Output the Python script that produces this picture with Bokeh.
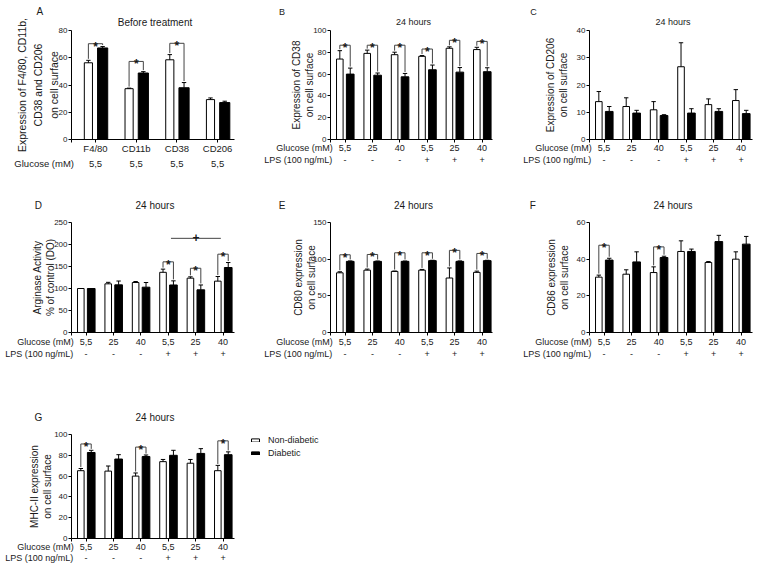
from bokeh.plotting import figure
from bokeh.layouts import column, row
from bokeh.models import Label, FixedTicker, Range1d, Legend, LegendItem, LinearAxis
from bokeh.embed import file_html
from bokeh.resources import INLINE

FONT = "Liberation Sans"
TXT = "#1a1a1a"
NB = "\u00a0"

# ---------------- data ----------------
glucose = ["5,5", "25", "40", "5,5", "25", "40"]
lps = ["-", "-", "-", "+", "+", "+"]

a_markers = ["F4/80", "CD11b", "CD38", "CD206"]
a_glucose = ["5,5", "5,5", "5,5", "5,5"]
a_nd = [56.3, 37.3, 58.5, 29.3]
a_nd_err = [1.8, 0.4, 3.8, 1.2]
a_d = [67.2, 48.8, 38.0, 27.1]
a_d_err = [1.0, 1.0, 3.8, 1.0]
a_sig = [0, 1, 2]
a_sig_h = [70.3, 57.3, 70.6]

b_nd = [73.8, 79.0, 77.8, 76.3, 83.7, 82.5]
b_nd_err = [7.7, 3.0, 2.3, 0.7, 1.3, 2.1]
b_d = [60.0, 59.0, 57.5, 64.0, 61.8, 62.2]
b_d_err = [5.5, 2.0, 3.1, 4.3, 4.2, 3.6]
b_sig = [0, 1, 2, 3, 4, 5]
b_sig_h = [86.5, 86.5, 86.5, 83.0, 91.0, 90.0]

c_nd = [13.9, 12.1, 10.9, 26.7, 12.8, 14.3]
c_nd_err = [3.7, 3.2, 3.0, 8.8, 2.1, 4.0]
c_d = [10.3, 9.7, 8.8, 9.7, 10.3, 9.5]
c_d_err = [1.8, 1.0, 0.3, 1.6, 1.0, 1.2]
c_sig = []
c_sig_h = []

d_nd = [100.0, 110.6, 113.6, 136.8, 123.5, 116.7]
d_nd_err = [0.0, 3.4, 2.3, 7.2, 3.0, 10.6]
d_d = [100.0, 108.3, 103.0, 108.0, 97.0, 147.7]
d_d_err = [0.0, 8.7, 10.6, 9.4, 11.0, 11.3]
d_sig = [3, 4, 5]
d_sig_h = [160.6, 146.0, 178.0]
d_cross_x = [3.1, 4.92]
d_cross_h = 214.0

e_nd = [81.4, 85.0, 83.3, 85.0, 74.3, 82.0]
e_nd_err = [1.4, 1.5, 0.5, 1.0, 13.7, 1.7]
e_d = [97.0, 97.0, 97.0, 98.0, 97.0, 98.0]
e_d_err = [0.6, 0.5, 0.5, 0.5, 0.6, 0.5]
e_sig = [0, 1, 2, 3, 4, 5]
e_sig_h = [106.0, 106.4, 108.7, 108.7, 112.0, 107.8]

f_nd = [30.2, 31.8, 32.7, 44.2, 38.2, 40.0]
f_nd_err = [1.1, 2.4, 3.1, 5.8, 0.5, 4.0]
f_d = [39.5, 38.5, 40.9, 44.2, 49.6, 48.2]
f_d_err = [1.0, 5.5, 0.7, 1.3, 3.4, 4.2]
f_sig = [0, 2]
f_sig_h = [47.6, 46.7]

g_nd = [65.2, 64.8, 60.0, 73.9, 72.4, 65.2]
g_nd_err = [2.1, 4.9, 3.0, 2.1, 3.6, 5.1]
g_d = [82.7, 76.4, 78.8, 80.0, 81.8, 80.6]
g_d_err = [2.1, 4.2, 1.5, 4.8, 4.6, 2.7]
g_sig = [0, 2, 5]
g_sig_h = [90.9, 87.9, 93.9]

# ---------------- layout geometry (page px) ----------------
# (page_left, fig_width, border_left, frame_width)
COLS = [(0, 250, 71, 163), (250, 250, 80, 162), (500, 256, 89, 163)]
# (page_top, fig_height, border_top, frame_height)
ROWS = [(0, 185, 30, 109), (185, 185, 37, 110), (370, 195, 61, 110)]
PX_UNIT = 27.4

# Arial / Liberation Sans advance widths (em)
CW = {"A": .667, "B": .667, "C": .722, "D": .722, "E": .667, "F": .611,
      "G": .778, "L": .556, "P": .667, "S": .667, "M": .833, " ": .278,
      "(": .333, ")": .333, "/": .278, "a": .556, "b": .556, "c": .5,
      "d": .556, "e": .556, "g": .556, "l": .222, "m": .833, "n": .556,
      "o": .556, "s": .5, "u": .556}


def text_w(s, size):
    return sum(CW.get(c, 0.556) for c in s) * size


def padded(s, size, total):
    n = max(0, round((total - text_w(s, size)) / (0.2778 * size)))
    return s + NB * n


def make_panel(ci, ri, ticklabels, nd, nd_err, d, d_err, sig, sig_h, ymax, ystep,
               ylab, ylab_size, ylab_lh, ylab_standoff, x0, px_unit, off, wnd, wd,
               xlab_size, xlab_standoff, xlab_lh, row_title_lines,
               letter, letter_cx, title, top_size, top_lh, top_standoff, two_line_top):
    left0, fwt, bl, fw = COLS[ci]
    top0, fht, bt, fh = ROWS[ri]
    x1 = x0 + fw / px_unit
    p = figure(width=fwt, height=fht, x_range=Range1d(x0, x1),
               y_range=Range1d(0, ymax), output_backend="svg",
               toolbar_location=None,
               min_border_left=bl, min_border_right=fwt - bl - fw,
               min_border_top=bt, min_border_bottom=fht - bt - fh)
    frame_left = left0 + bl
    p.outline_line_color = None
    p.xgrid.grid_line_color = None
    p.ygrid.grid_line_color = None
    p.background_fill_color = "white"
    p.border_fill_color = "white"

    n = len(ticklabels)
    xs_nd = [i - off for i in range(n)]
    xs_d = [i + off for i in range(n)]
    p.vbar(x=xs_nd, top=nd, width=wnd, fill_color="white",
           line_color="black", line_width=1)
    p.vbar(x=xs_d, top=d, width=wd, fill_color="black",
           line_color="black", line_width=1)

    cw = 2.2 / px_unit
    for xs, tops, errs in ((xs_nd, nd, nd_err), (xs_d, d, d_err)):
        ends = [t + e for t, e in zip(tops, errs)]
        p.segment(x0=xs, y0=tops, x1=xs, y1=ends, line_color="black", line_width=1)
        p.segment(x0=[x - cw for x in xs], y0=ends, x1=[x + cw for x in xs],
                  y1=ends, line_color="black", line_width=1)

    upx = ymax / fh  # data units per pixel
    gap = 1.5 * upx
    bx0, by0, bx1, by1 = [], [], [], []
    for g, h in zip(sig, sig_h):
        xl, xr = g - off, g + off
        yl = nd[g] + nd_err[g] + gap
        yr = d[g] + d_err[g] + gap
        bx0 += [xl, xl, xr]
        by0 += [h, h, h]
        bx1 += [xr, xl, xr]
        by1 += [h, yl, yr]
        p.add_layout(Label(x=g, y=h - 3.0 * upx, text="*", text_font=FONT,
                           text_font_size="12px", text_font_style="bold",
                           text_align="center", text_baseline="alphabetic",
                           text_color=TXT))
    if bx0:
        p.segment(x0=bx0, y0=by0, x1=bx1, y1=by1, line_color="#444444", line_width=1)

    # ---- bottom axis: tick rows + row titles at the frame's left edge ----
    t_left = round(x0 + 0.01, 4)
    x_t = frame_left + 0.01 * px_unit
    delta = (frame_left + 2) - x_t
    lines = []
    for s in row_title_lines:
        if s:
            w = text_w(s, xlab_size)
            lines.append(padded(s, xlab_size, 2 * w - 2 * delta))
        else:
            lines.append(NB)
    overrides = {t_left: "\n".join(lines)}
    overrides.update({i: ticklabels[i] for i in range(n)})
    p.yaxis.ticker = FixedTicker(ticks=list(range(0, ymax + 1, ystep)))
    p.xaxis.ticker = FixedTicker(ticks=[t_left] + list(range(n)))
    p.xaxis.major_label_overrides = overrides
    for ax in (p.xaxis[0], p.yaxis[0]):
        ax.axis_line_color = "black"
        ax.axis_line_width = 1
        ax.major_tick_line_color = "black"
        ax.minor_tick_line_color = None
        ax.major_tick_in = 0
        ax.major_tick_out = 3
        ax.major_label_text_font = FONT
        ax.major_label_text_color = TXT
    p.yaxis.major_label_text_font_size = "8px"
    p.yaxis.major_label_standoff = 1
    p.xaxis.major_label_text_font_size = f"{xlab_size}px"
    p.xaxis.major_label_standoff = xlab_standoff
    p.xaxis.major_label_text_line_height = xlab_lh
    p.yaxis.axis_label = ylab
    p.yaxis.axis_label_text_font = FONT
    p.yaxis.axis_label_text_font_size = f"{ylab_size}px"
    p.yaxis.axis_label_text_font_style = "normal"
    p.yaxis.axis_label_text_color = TXT
    p.yaxis.axis_label_text_line_height = ylab_lh
    p.yaxis.axis_label_standoff = ylab_standoff

    # ---- top axis: panel letter and panel title ----
    t_center = round((x0 + x1) / 2 + 2 / px_unit, 4)
    letter_left = letter_cx - text_w(letter, top_size) / 2
    letter_txt = padded(letter, top_size, 2 * (x_t - letter_left))
    if two_line_top:
        lab_letter = letter_txt + "\n" + NB
        lab_title = NB + "\n" + title
    else:
        lab_letter = letter_txt
        lab_title = title
    top = LinearAxis(ticker=FixedTicker(ticks=[t_left, t_center]),
                     major_label_overrides={t_left: lab_letter, t_center: lab_title},
                     axis_line_color=None, major_tick_line_color=None,
                     minor_tick_line_color=None, major_tick_in=0, major_tick_out=0,
                     major_label_standoff=top_standoff,
                     major_label_text_font=FONT,
                     major_label_text_font_size=f"{top_size}px",
                     major_label_text_line_height=top_lh,
                     major_label_text_color=TXT)
    p.add_layout(top, "above")
    return p


X0, OFF, WND, WD = -0.53, 0.19, 0.24, 0.28
two_rows = [f"{g}\n{s}" for g, s in zip(glucose, lps)]
a_rows = [f"{m}\n{g}" for m, g in zip(a_markers, a_glucose)]
RT = ["Glucose (mM)", "LPS (100 ng/mL)"]

pa = make_panel(0, 0, a_rows, a_nd, a_nd_err, a_d, a_d_err, a_sig, a_sig_h,
                80, 20, "Expression of F4/80, CD11b,\nCD38 and CD206\non cell surface",
                10.5, 1.3, -4, -0.59, 40.7, 0.175, 0.2, 0.25, 9.5, 0, 1.38,
                ["", "Glucose (mM)"], "A", 40, "Before treatment", 10, 1.0, 3, True)

pb = make_panel(1, 0, two_rows, b_nd, b_nd_err, b_d, b_d_err, b_sig, b_sig_h,
                100, 20, "Expression of CD38\non cell surface", 10, 1.15, -5,
                X0, PX_UNIT, OFF, WND, WD, 9, 0, 1.2, RT,
                "B", 282, "24 hours", 9, 1.0, 4, True)

pc = make_panel(2, 0, two_rows, c_nd, c_nd_err, c_d, c_d_err, c_sig, c_sig_h,
                40, 10, "Expression of CD206\non cell surface", 10, 1.15, 5,
                X0, PX_UNIT, OFF, WND, WD, 9, 0, 1.2, RT,
                "C", 533, "24 hours", 9, 1.0, 4, True)

pd_ = make_panel(0, 1, two_rows, d_nd, d_nd_err, d_d, d_d_err, d_sig, d_sig_h,
                 250, 50, "Arginase Activity\n% of control (DO)", 10, 1.15, -5,
                 X0, PX_UNIT, OFF, WND, WD, 9, 1, 1.2, RT,
                 "D", 38, "24 hours", 10, 1.2, 12, False)
pd_.segment(x0=[d_cross_x[0]], y0=[d_cross_h], x1=[d_cross_x[1]], y1=[d_cross_h],
            line_color="#444444", line_width=1)
pd_.add_layout(Label(x=sum(d_cross_x) / 2, y=d_cross_h + 0.5 * 250 / 110, text="+",
                     text_font=FONT, text_font_size="12px", text_font_style="bold",
                     text_align="center", text_baseline="alphabetic", text_color=TXT))

pe = make_panel(1, 1, two_rows, e_nd, e_nd_err, e_d, e_d_err, e_sig, e_sig_h,
                150, 50, "CD80 expression\non cell surface", 10, 1.15, -7,
                X0, PX_UNIT, OFF, WND, WD, 9, 1, 1.2, RT,
                "E", 282, "24 hours", 10, 1.2, 12, False)

pf = make_panel(2, 1, two_rows, f_nd, f_nd_err, f_d, f_d_err, f_sig, f_sig_h,
                60, 20, "CD86 expression\non cell surface", 10, 1.15, 4,
                X0, PX_UNIT, OFF, WND, WD, 9, 1, 1.2, RT,
                "F", 533, "24 hours", 10, 1.2, 12, False)

pg = make_panel(0, 2, two_rows, g_nd, g_nd_err, g_d, g_d_err, g_sig, g_sig_h,
                100, 20, "MHC-II expression\non cell surface", 10, 1.15, -2,
                X0, PX_UNIT, OFF, WND, WD, 9, 0, 1.1, RT,
                "G", 38, "24 hours", 10, 1.2, 12, False)

# ---- legend ----
lg = figure(width=150, height=195, x_range=Range1d(0, 1), y_range=Range1d(0, 1),
            x_axis_type=None, y_axis_type=None, output_backend="svg",
            toolbar_location=None, min_border_left=0, min_border_top=64,
            min_border_right=0, min_border_bottom=0)
lg.outline_line_color = None
lg.xgrid.visible = False
lg.ygrid.visible = False
r1 = lg.vbar(x=[5], top=[1], width=0.5, fill_color="white", line_color="black")
r2 = lg.vbar(x=[5], top=[1], width=0.5, fill_color="black", line_color="black")
leg = Legend(items=[LegendItem(label="Non-diabetic", renderers=[r1]),
                    LegendItem(label="Diabetic", renderers=[r2])],
             location="top_left", margin=0, padding=0, spacing=2,
             glyph_width=10, glyph_height=4, label_height=11, label_standoff=8,
             label_text_font=FONT, label_text_font_size="9px",
             label_text_color=TXT, border_line_color=None,
             background_fill_alpha=0)
lg.add_layout(leg)

layout = column(row(pa, pb, pc), row(pd_, pe, pf), row(pg, lg))
open("out.html", "w").write(file_html(layout, INLINE))
